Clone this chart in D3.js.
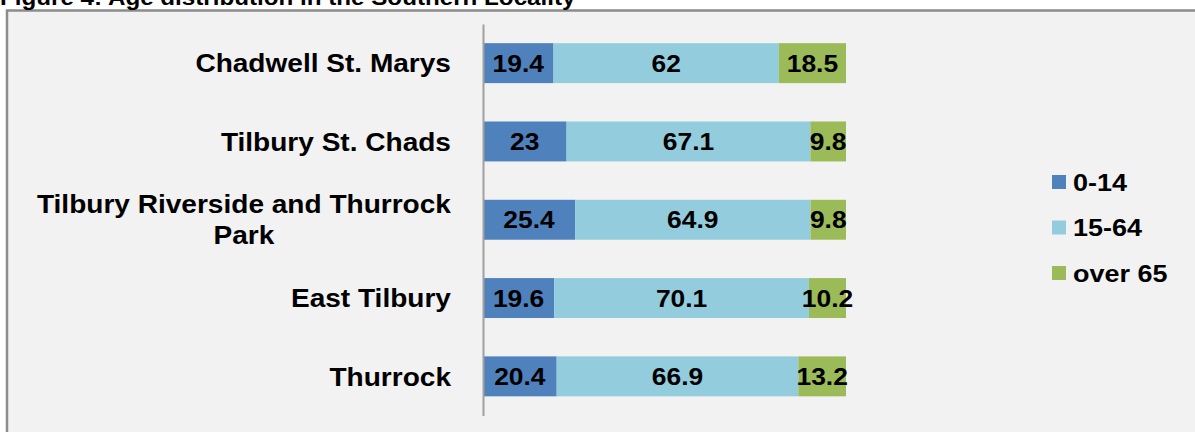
<!DOCTYPE html>
<html>
<head>
<meta charset="utf-8">
<script src="https://cdn.jsdelivr.net/npm/d3@7"></script>
<style>
  body { margin: 0; background: #fff; }
  svg { display: block; }
  text { font-family: "Liberation Sans", Arial, sans-serif; font-weight: bold; fill: #000; }
</style>
</head>
<body>
<div id="chart"></div>
<script>
// data
var wards = ["Chadwell St. Marys", "Tilbury St. Chads", "Tilbury Riverside and Thurrock|Park", "East Tilbury", "Thurrock"];
var ageGroups = ["0-14", "15-64", "over 65"];
var under15 = [19.4, 23, 25.4, 19.6, 20.4];
var working = [62, 67.1, 64.9, 70.1, 66.9];
var over65 = [18.5, 9.8, 9.8, 10.2, 13.2];
var colours = ["#4f81bd", "#93cddd", "#9bbb59"];

var svgWidth = 1195;
var svgHeight = 432;
var stretch = 1.1; // the picture text is a bit wider than plain Arial

// build rows for d3.stack
var rows = wards.map(function(w, i) {
	return {ward: w, "0-14": under15[i], "15-64": working[i], "over 65": over65[i]};
});

var svg = d3.select("#chart")
	.append("svg")
	.attr("width", svgWidth)
	.attr("height", svgHeight);

// chart area box (runs off right and bottom edge)
svg.append("rect")
	.attr("x", 7)
	.attr("y", 10.5)
	.attr("width", svgWidth + 10)
	.attr("height", svgHeight + 10)
	.attr("fill", "#f2f2f2")
	.attr("stroke", "#8c8c8c")
	.attr("stroke-width", 2.5);

// caption, cut by the top of the picture as in the original
svg.append("text")
	.attr("transform", "translate(0,4.5) scale(" + stretch + ",1)")
	.style("font-size", "22px")
	.text("Figure 4: Age distribution in the Southern Locality");

var xScale = d3.scaleLinear()
	.domain([0, 1])
	.range([483, 846]);

var yScale = d3.scaleBand()
	.domain(wards)
	.range([24, 415.5])
	.paddingInner(0.49)
	.paddingOuter(0.245);

var stack = d3.stack()
	.keys(ageGroups)
	.offset(d3.stackOffsetExpand);
var series = stack(rows);

var layers = svg.selectAll("g.layer")
	.data(series)
	.enter()
	.append("g")
	.attr("class", "layer")
	.attr("fill", function(d, i) { return colours[i]; });

layers.selectAll("rect")
	.data(function(d) { return d; })
	.enter()
	.append("rect")
	.attr("x", function(d) { return xScale(d[0]); })
	.attr("y", function(d) { return yScale(d.data.ward); })
	.attr("width", function(d) { return xScale(d[1]) - xScale(d[0]); })
	.attr("height", yScale.bandwidth());

// value labels in the middle of each piece
layers.each(function(s) {
	d3.select(this).selectAll("text")
		.data(s)
		.enter()
		.append("text")
		.attr("transform", function(d) {
			var cx = (xScale(d[0]) + xScale(d[1])) / 2;
			var cy = yScale(d.data.ward) + yScale.bandwidth() / 2;
			return "translate(" + cx + "," + cy + ") scale(" + stretch + ",1)";
		})
		.attr("dy", "0.36em")
		.style("text-anchor", "middle")
		.style("font-size", "24px")
		.text(function(d) { return d.data[s.key]; });
});

// vertical axis line
var yAxis = d3.axisLeft(yScale).tickSize(0).tickSizeOuter(0).tickFormat("");
var axisG = svg.append("g")
	.attr("transform", "translate(483,0)")
	.call(yAxis);
axisG.select(".domain")
	.attr("stroke", "#a0a0a0")
	.attr("stroke-width", 2);

// category labels, wrapped ones are centred on their widest line
var labelRight = 451;
wards.forEach(function(w) {
	var lines = w.split("|");
	var cy = yScale(w) + yScale.bandwidth() / 2;
	var lineH = 31;
	var g = svg.append("g");
	var texts = lines.map(function(line) {
		return g.append("text")
			.style("font-size", "25.5px")
			.attr("dy", "0.36em")
			.style("text-anchor", "middle")
			.text(line);
	});
	var widest = d3.max(texts, function(t) { return t.node().getComputedTextLength(); }) * stretch;
	var mid = labelRight - widest / 2;
	texts.forEach(function(t, k) {
		var ty = cy + (k - (lines.length - 1) / 2) * lineH;
		t.attr("transform", "translate(" + mid + "," + ty + ") scale(" + stretch + ",1)");
	});
});

// legend
var legend = svg.selectAll("g.legend")
	.data(ageGroups)
	.enter()
	.append("g")
	.attr("class", "legend")
	.attr("transform", function(d, i) { return "translate(1052," + (182 + i * 45.5) + ")"; });

legend.append("rect")
	.attr("x", 0)
	.attr("y", -7)
	.attr("width", 14)
	.attr("height", 14)
	.attr("fill", function(d, i) { return colours[i]; });

legend.append("text")
	.attr("transform", "translate(21,0) scale(" + stretch + ",1)")
	.attr("dy", "0.36em")
	.style("font-size", "24.5px")
	.text(function(d) { return d; });
</script>
</body>
</html>
